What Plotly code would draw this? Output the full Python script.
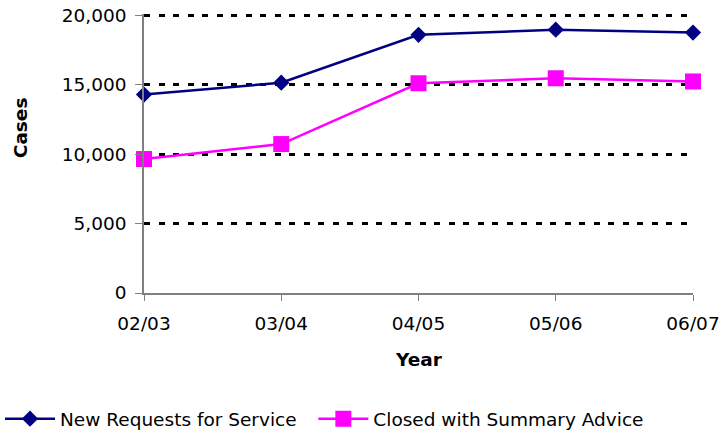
import plotly.graph_objects as go

years = ["02/03", "03/04", "04/05", "05/06", "06/07"]
new_requests = [14300, 15150, 18600, 18970, 18760]
closed_summary = [9650, 10730, 15110, 15470, 15240]
y_ticks = [0, 5000, 10000, 15000, 20000]
y_tick_labels = ["0", "5,000", "10,000", "15,000", "20,000"]

font_family = "DejaVu Sans"
font_size = 18.5
x_pos = list(range(len(years)))

fig = go.Figure()
fig.add_trace(go.Scatter(
    x=x_pos, y=new_requests, name="New Requests for Service",
    mode="lines+markers", cliponaxis=False, legend="legend",
    line=dict(color="#000080", width=2.5),
    marker=dict(symbol="diamond", size=12.5, color="#000080"),
))
fig.add_trace(go.Scatter(
    x=x_pos, y=closed_summary, name="Closed with Summary Advice",
    mode="lines+markers", cliponaxis=False, legend="legend2",
    line=dict(color="#FF00FF", width=2.5),
    marker=dict(symbol="square", size=16, color="#FF00FF"),
))

legend_style = dict(orientation="h", xref="container", yref="container",
                    xanchor="left", yanchor="middle", y=0.032,
                    font=dict(family=font_family, size=font_size),
                    itemwidth=50, bgcolor="rgba(0,0,0,0)")

fig.update_layout(
    width=722, height=433,
    margin=dict(l=144, r=29, t=14, b=140, autoexpand=False),
    paper_bgcolor="white", plot_bgcolor="white",
    font=dict(family=font_family, size=font_size, color="black"),
    showlegend=True,
    legend=dict(legend_style, x=-0.008),
    legend2=dict(legend_style, x=0.434),
    annotations=[
        dict(text="<b>Cases</b>", xref="paper", yref="paper",
             x=-0.226, y=0.594, textangle=-90, showarrow=False,
             xanchor="center", yanchor="middle",
             font=dict(family=font_family, size=font_size)),
        dict(text="<b>Year</b>", xref="paper", yref="paper",
             x=0.5, y=-0.24, showarrow=False,
             xanchor="center", yanchor="middle",
             font=dict(family=font_family, size=font_size)),
    ],
)
fig.update_xaxes(
    range=[0, len(years) - 1], tickvals=x_pos, ticktext=years,
    showline=True, linecolor="#808080", linewidth=1.5,
    ticks="outside", ticklen=6, tickcolor="#808080",
    ticklabelstandoff=7, automargin=False,
    showgrid=False, zeroline=False,
)
fig.update_yaxes(
    range=[0, 20100], tickvals=y_ticks, ticktext=y_tick_labels,
    showline=True, linecolor="#808080", linewidth=1.5,
    ticks="outside", ticklen=7, tickcolor="#808080",
    ticklabelstandoff=5, automargin=False,
    showgrid=True, gridcolor="black", gridwidth=2.5, griddash="6px,8.5px",
    zeroline=False,
)

fig.write_html("out.html")
